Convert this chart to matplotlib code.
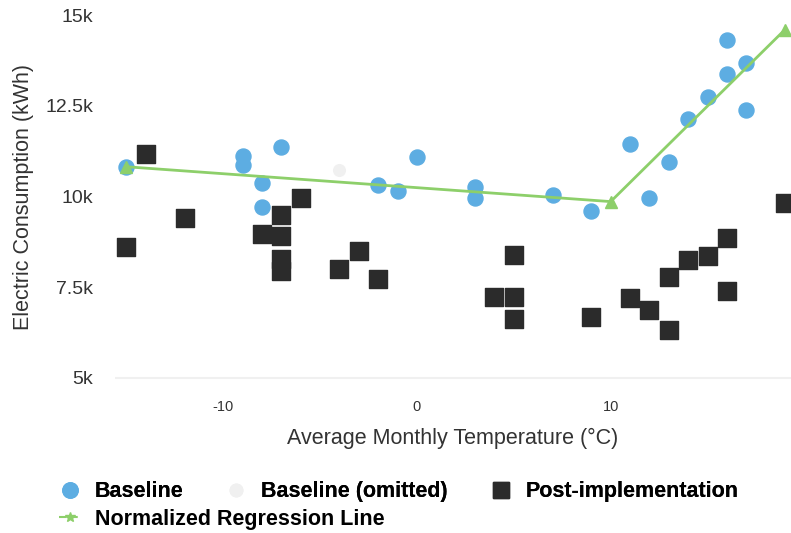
import matplotlib.pyplot as plt
from matplotlib.lines import Line2D
from matplotlib.ticker import FuncFormatter

plt.rcParams['font.family'] = ['Liberation Sans', 'DejaVu Sans']
plt.rcParams['axes.unicode_minus'] = False

# baseline months (temperature C, kWh)
base_temp = [-15, -9, -9, -7, -8, -8, -2, -1, 0, 3, 3, 7, 9, 11, 12, 13, 14, 15, 16, 16, 17, 17]
base_kwh = [10820, 11130, 10880, 11370, 10380, 9700, 10330, 10140, 11100, 10250, 9970, 10030,
            9590, 11460, 9970, 10960, 12140, 12750, 13380, 14310, 13680, 12390]

# omitted baseline month
omit_temp = [-4]
omit_kwh = [10740]

# post-implementation months
post_temp = [-14, -15, -12, -8, -7, -7, -7, -7, -6, -4, -3, -2, 5, 4, 5, 5, 9, 11, 12, 13, 13,
             14, 15, 16, 16, 19]
post_kwh = [11180, 8600, 9420, 8960, 8900, 9500, 8270, 7940, 9970, 8000, 8490, 7720, 8380, 7230,
            7230, 6620, 6680, 7200, 6870, 7780, 6320, 8250, 8350, 8850, 7390, 9810]

# regression line (change point model)
reg_temp = [-15, 10, 19]
reg_kwh = [10820, 9860, 14600]

blue = '#5dade2'
dark = '#2b2b2b'
green = '#8dcf6a'
omit_col = '#f0f0f0'
txt = '#333333'

fig = plt.figure(figsize=(7.91, 5.33), dpi=100)
ax = fig.add_axes([0.1451, 0.284, 0.8547, 0.6946])

ax.axhline(5000, color='#f0f0f0', lw=1.5, zorder=0)
ax.scatter(post_temp, post_kwh, s=150, marker='s', color=dark, zorder=2, clip_on=False)
ax.scatter(omit_temp, omit_kwh, s=70, marker='o', color=omit_col, zorder=2)
ax.scatter(base_temp, base_kwh, s=117, marker='o', color=blue, zorder=3, clip_on=False)
ax.plot(reg_temp, reg_kwh, color=green, lw=2, marker='^', markersize=8, zorder=4, clip_on=False)

ax.set_xlim(-15.6, 19.3)
ax.set_ylim(4900, 15100)
ax.set_xticks([-10, 0, 10])
ax.set_yticks([5000, 7500, 10000, 12500, 15000])
ax.yaxis.set_major_formatter(FuncFormatter(lambda v, p: '%gk' % (v / 1000)))
ax.tick_params(axis='both', length=0, colors=txt)
ax.tick_params(axis='y', labelsize=14, pad=15.5)
ax.tick_params(axis='x', labelsize=10.5, pad=13)
for s in ax.spines.values():
    s.set_visible(False)

ax.set_xlabel('Average Monthly Temperature (°C)', fontsize=15.5, color=txt, labelpad=10)
ax.set_ylabel('Electric Consumption (kWh)', fontsize=15.5, color=txt, labelpad=8)

lprop = {'weight': 'bold', 'size': 15.5}
h1 = [Line2D([], [], ls='', marker='o', color=blue, markersize=11),
      Line2D([], [], ls='', marker='o', color=omit_col, markersize=9),
      Line2D([], [], ls='', marker='s', color=dark, markersize=12)]
leg1 = fig.legend(h1, ['Baseline', 'Baseline (omitted)', 'Post-implementation'], ncol=3,
                  loc='center left', bbox_to_anchor=(0.0503, 0.077), frameon=False,
                  prop=lprop, handletextpad=0.66, columnspacing=1.95, handlelength=1.0)
h2 = [Line2D([], [], color=green, lw=1.5, ls='--', marker='*', markersize=7)]
fig.legend(h2, ['Normalized Regression Line'], loc='center left', bbox_to_anchor=(0.0503, 0.026),
           frameon=False, prop=lprop, handletextpad=0.66, handlelength=1.0)
fig.add_artist(leg1)

fig.savefig('out.png', dpi=100)
